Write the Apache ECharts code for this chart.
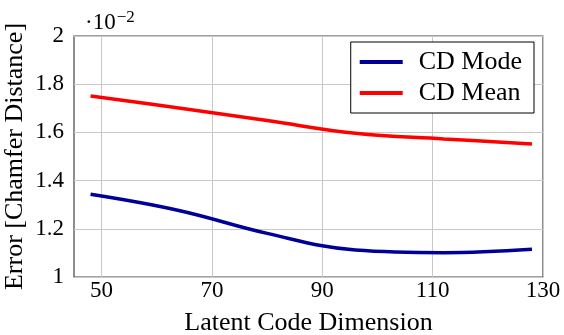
<!DOCTYPE html>
<html>
<head>
<meta charset="utf-8">
<script src="https://cdn.jsdelivr.net/npm/echarts@6/dist/echarts.min.js"></script>
<style>
  html, body { margin: 0; padding: 0; background: #fff; }
  #chart { width: 564px; height: 335px; }
</style>
</head>
<body>
<div id="chart"></div>
<script>
var dims = [48, 64, 80, 96, 112, 128];
var cdMode = [1.343, 1.276, 1.181, 1.112, 1.101, 1.115];
var cdMean = [1.751, 1.701, 1.649, 1.596, 1.573, 1.552];
var xTicks = [50, 70, 90, 110, 130];

var font = 'Liberation Serif';

function pairs(xs, ys) {
  return xs.map(function (x, i) { return [x, ys[i]]; });
}

var myChart = echarts.init(document.getElementById('chart'));
var option = {
  animation: false,
  title: {
    text: '{a|·10}{b|−2}',
    left: 80,
    top: 4,
    textStyle: {
      fontWeight: 'normal',
      rich: {
        a: { fontFamily: font, fontSize: 23, fontWeight: 'normal', color: '#000' },
        b: { fontFamily: font, fontSize: 17, fontWeight: 'normal', color: '#000', verticalAlign: 'top', padding: [0, 0, 10, 1] }
      }
    }
  },
  grid: {
    left: 74, right: 21, top: 36, bottom: 58,
    outerBoundsMode: 'none',
    containLabel: false,
    show: true, borderColor: '#444', borderWidth: 1.2
  },
  legend: {
    right: 30,
    top: 42,
    orient: 'vertical',
    backgroundColor: '#fff',
    borderColor: '#000',
    borderWidth: 1,
    padding: [7, 12, 7, 9],
    itemGap: 5,
    itemWidth: 43,
    itemHeight: 4,
    icon: 'rect',
    textStyle: { fontFamily: font, fontSize: 26, color: '#000', padding: [0, 0, 0, 11] }
  },
  xAxis: {
    type: 'value',
    min: 45,
    max: 130,
    name: 'Latent Code Dimension',
    nameLocation: 'middle',
    nameGap: 33,
    nameMoveOverlap: false,
    nameTextStyle: { fontFamily: font, fontSize: 26, color: '#000' },
    axisLine: { show: false },
    axisTick: { show: false, customValues: xTicks },
    axisLabel: { customValues: xTicks, margin: 2, fontFamily: font, fontSize: 23, color: '#000' },
    splitLine: { show: true, lineStyle: { color: '#c8c8c8', width: 1 } }
  },
  yAxis: {
    type: 'value',
    min: 1,
    max: 2,
    interval: 0.2,
    name: 'Error [Chamfer Distance]',
    nameLocation: 'middle',
    nameGap: 46,
    nameMoveOverlap: false,
    nameTextStyle: { fontFamily: font, fontSize: 26, color: '#000' },
    axisLine: { show: false },
    axisTick: { show: false },
    axisLabel: {
      margin: 10,
      fontFamily: font,
      fontSize: 23,
      color: '#000',
      formatter: function (v) { return String(Math.round(v * 10) / 10); }
    },
    splitLine: { show: true, lineStyle: { color: '#c8c8c8', width: 1 } }
  },
  series: [
    {
      name: 'CD Mode',
      type: 'line',
      smooth: 0.4,
      symbol: 'none',
      lineStyle: { color: '#000099', width: 3.5 },
      itemStyle: { color: '#000099' },
      data: pairs(dims, cdMode)
    },
    {
      name: 'CD Mean',
      type: 'line',
      smooth: 0.4,
      symbol: 'none',
      lineStyle: { color: '#ff0000', width: 3.5 },
      itemStyle: { color: '#ff0000' },
      data: pairs(dims, cdMean)
    }
  ]
};
myChart.setOption(option, true);
</script>
</body>
</html>
